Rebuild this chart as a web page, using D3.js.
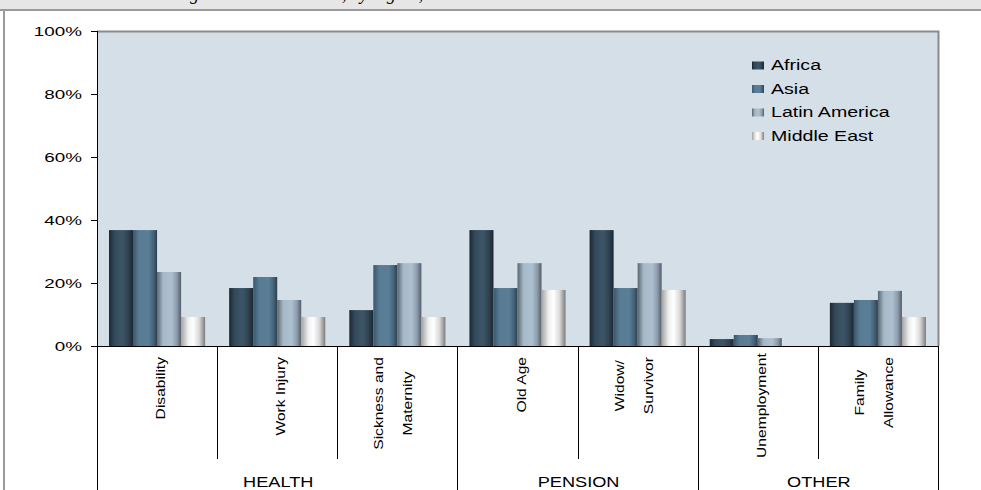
<!DOCTYPE html>
<html>
<head>
<meta charset="utf-8">
<script src="https://cdn.jsdelivr.net/npm/d3@7"></script>
<style>
  html, body { margin: 0; padding: 0; background: #ffffff; }
  svg { display: block; }
  text { font-family: "Liberation Sans", Arial, sans-serif; fill: #000; }
</style>
</head>
<body>
<svg id="chart" width="981" height="490"></svg>
<script>
// ---- data ----
const categories = ["Disability", "Work Injury", "Sickness and Maternity", "Old Age", "Widow/ Survivor", "Unemployment", "Family Allowance"];
const categoryLines = [["Disability"], ["Work Injury"], ["Sickness and", "Maternity"], ["Old Age"], ["Widow/", "Survivor"], ["Unemployment"], ["Family", "Allowance"]];
const categoryGroup = ["HEALTH", "HEALTH", "HEALTH", "PENSION", "PENSION", "OTHER", "OTHER"];
const groupNames = ["HEALTH", "PENSION", "OTHER"];
const seriesNames = ["Africa", "Asia", "Latin America", "Middle East"];
const africa     = [0.368, 0.184, 0.114, 0.368, 0.368, 0.022, 0.137];
const asia       = [0.368, 0.219, 0.257, 0.184, 0.184, 0.035, 0.146];
const latin      = [0.235, 0.146, 0.263, 0.263, 0.263, 0.025, 0.175];
const middleEast = [0.092, 0.092, 0.092, 0.178, 0.178, 0.000, 0.092];
const yTicks = [0, 0.2, 0.4, 0.6, 0.8, 1.0];
const titleText = "Existing Insurance Schemes, by region, 2004";

const seriesValues = [africa, asia, latin, middleEast];

// ---- layout ----
const W = 981, H = 490;
const plot = { left: 97, right: 938, top: 31, bottom: 346 };
const catAxisInnerBottom = 459;

const svg = d3.select("#chart");

// gradients
const gradStops = [
  [["0%", "#1b2731"], ["22%", "#33495a"], ["55%", "#3d5667"], ["80%", "#2f4352"], ["100%", "#1a2630"]],
  [["0%", "#3a566a"], ["25%", "#587c94"], ["65%", "#5a7e96"], ["85%", "#44627a"], ["100%", "#2b3e4c"]],
  [["0%", "#5a6671"], ["25%", "#a6b9c8"], ["60%", "#adc0cf"], ["82%", "#8c9cab"], ["100%", "#535e68"]],
  [["0%", "#a3a3a3"], ["30%", "#f0f0f0"], ["50%", "#ffffff"], ["75%", "#d9d9d9"], ["100%", "#7c7c7c"]]
];
const defs = svg.append("defs");
gradStops.forEach((stops, i) => {
  const g = defs.append("linearGradient").attr("id", "grad" + i)
    .attr("x1", "0").attr("y1", "0").attr("x2", "1").attr("y2", "0");
  stops.forEach(s => g.append("stop").attr("offset", s[0]).attr("stop-color", s[1]));
});

// background frame
svg.append("rect").attr("x", 0).attr("y", 0).attr("width", W).attr("height", 9).attr("fill", "#e6e6e6");
svg.append("text").attr("x", 140).attr("y", -0.5)
  .style("font-family", "'Liberation Serif', 'Times New Roman', serif")
  .style("font-style", "italic").style("font-size", "18px")
  .text(titleText);
svg.append("rect").attr("x", 0).attr("y", 9).attr("width", W).attr("height", 2).attr("fill", "#9a9a9a");
svg.append("rect").attr("x", 3).attr("y", 9).attr("width", 2).attr("height", H - 9).attr("fill", "#9a9a9a");

// scales
const y = d3.scaleLinear().domain([0, 1]).range([plot.bottom, plot.top]);
const x0 = d3.scaleBand().domain(categories).range([plot.left, plot.right]).paddingInner(0).paddingOuter(0);
const x1 = d3.scaleBand().domain(seriesNames).range([0, x0.bandwidth()]).paddingInner(0).paddingOuter(0.5);

// plot background
svg.append("rect")
  .attr("x", plot.left).attr("y", plot.top)
  .attr("width", plot.right - plot.left).attr("height", plot.bottom - plot.top)
  .attr("fill", "#d5dfe7");

// bars
const barData = [];
categories.forEach((c, ci) => {
  seriesNames.forEach((s, si) => barData.push({ c, s, si, v: seriesValues[si][ci] }));
});
svg.append("g").selectAll("rect").data(barData.filter(d => d.v > 0)).join("rect")
  .attr("x", d => x0(d.c) + x1(d.s))
  .attr("y", d => y(d.v))
  .attr("width", x1.bandwidth())
  .attr("height", d => y(0) - y(d.v))
  .attr("fill", d => "url(#grad" + d.si + ")");

// plot border top/right (gray)
svg.append("path")
  .attr("d", `M${plot.left},${plot.top + 0.5}H${plot.right + 0.5}V${plot.bottom}`)
  .attr("fill", "none").attr("stroke", "#8a8a8a").attr("stroke-width", 2);

// y axis
const yAxis = d3.axisLeft(y).tickValues(yTicks).tickFormat(d3.format(".0%")).tickSize(6).tickSizeOuter(0);
const yg = svg.append("g").attr("transform", `translate(${plot.left},0)`).call(yAxis);
yg.select(".domain").remove();
yg.selectAll(".tick line").attr("stroke", "#000");
yg.selectAll(".tick text")
  .attr("x", 0).attr("dy", "0.36em")
  .attr("transform", "translate(-15,0) scale(1.45,1)")
  .style("font-size", "13px").style("font-family", "'Liberation Sans', Arial, sans-serif");

// axis lines
svg.append("line").attr("x1", plot.left + 0.5).attr("x2", plot.left + 0.5)
  .attr("y1", plot.top).attr("y2", H).attr("stroke", "#000");
svg.append("line").attr("x1", plot.left).attr("x2", plot.right + 1)
  .attr("y1", plot.bottom + 0.5).attr("y2", plot.bottom + 0.5).attr("stroke", "#000");

// category dividers
const catAxis = svg.append("g");
categories.forEach((c, ci) => {
  const xr = x0(c) + x0.bandwidth();
  const isGroupEnd = ci === categories.length - 1 || categoryGroup[ci] !== categoryGroup[ci + 1];
  catAxis.append("line")
    .attr("x1", Math.round(xr) + 0.5).attr("x2", Math.round(xr) + 0.5)
    .attr("y1", plot.bottom).attr("y2", isGroupEnd ? H : catAxisInnerBottom)
    .attr("stroke", "#000");
});

// category labels (rotated)
const labelScale = 1.2;
categories.forEach((c, ci) => {
  const lines = categoryLines[ci];
  const cx = x0(c) + x0.bandwidth() / 2;
  const n = lines.length;
  const texts = lines.map((ln, li) => catAxis.append("text")
    .style("font-size", "13px")
    .attr("text-anchor", "middle")
    .text(ln));
  const lens = texts.map(t => t.node().getComputedTextLength() * labelScale);
  const maxLen = d3.max(lens);
  const top = Math.min(357, catAxisInnerBottom - 1 - maxLen);
  const yc = top + maxLen / 2;
  const offset = n === 1 ? 3.5 : -4;
  texts.forEach((t, li) => {
    const gx = cx + (li - (n - 1) / 2) * 29 + offset + 4.6;
    t.attr("transform", `translate(${gx},${yc}) rotate(-90) scale(${labelScale},1)`);
  });
});

// group labels
groupNames.forEach(g => {
  const idx = categories.filter((c, i) => categoryGroup[i] === g);
  const xs = x0(idx[0]);
  const xe = x0(idx[idx.length - 1]) + x0.bandwidth();
  catAxis.append("text")
    .attr("text-anchor", "middle")
    .attr("transform", `translate(${(xs + xe) / 2 + 1},487) scale(1.3,1)`)
    .style("font-size", "14px")
    .text(g);
});

// legend
const legend = svg.append("g").attr("transform", "translate(752,65)");
seriesNames.forEach((s, i) => {
  const row = legend.append("g").attr("transform", `translate(0,${i * 23.5})`);
  row.append("rect").attr("x", 0).attr("y", -3.5).attr("width", 12).attr("height", 8)
    .attr("fill", `url(#grad${i})`);
  row.append("text").attr("x", 0).attr("y", 0).attr("dy", "0.36em")
    .attr("transform", "translate(19,0) scale(1.4,1)")
    .style("font-size", "14px")
    .text(s);
});
</script>
</body>
</html>
